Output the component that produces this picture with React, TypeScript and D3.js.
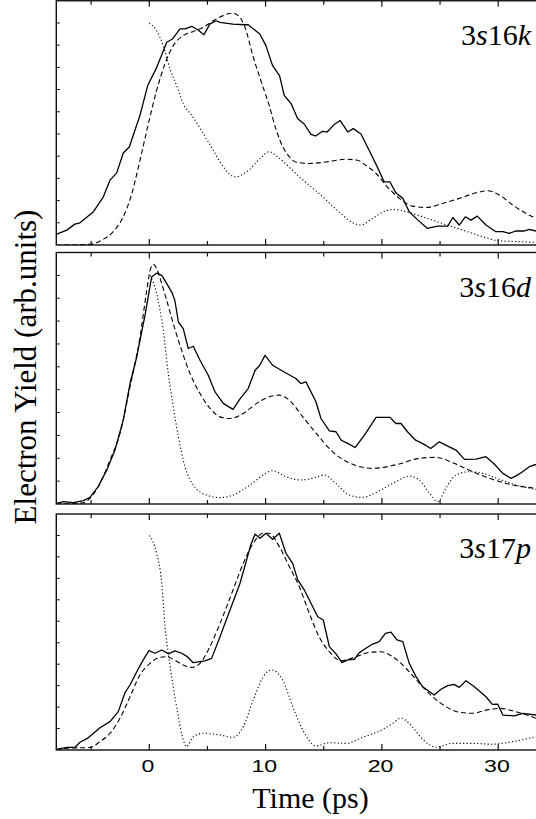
import React from "react";
import * as d3 from "d3";

type P = [number, number];

// x ticks (ps)
const xTicks: number[] = [-5, 0, 5, 10, 15, 20, 25, 30];
const xTickLabels: number[] = [0, 10, 20, 30];
const yMinorTicks: number[] = [1, 2, 3, 4, 5, 6, 7, 8, 9, 10];

// ---- 3s16k ----
const k16Solid: P[] = [[-8,0.48],[-7.1,0.67],[-6.4,0.94],[-5.96,1.0],[-4.8,1.5],[-3.95,2.17],[-3.38,2.92],[-2.8,3.25],[-2.24,4.14],[-1.72,4.41],[-0.8,5.84],[-0.14,7.18],[0.64,8.0],[1.5,9.13],[2.0,9.28],[2.64,9.73],[3.07,9.73],[3.65,9.85],[4.2,9.68],[4.7,9.47],[5.2,9.95],[5.73,10.1],[6.08,10.03],[7.2,9.95],[8.23,9.92],[8.5,9.92],[9.5,9.5],[10.03,8.98],[10.6,8.08],[11.2,7.63],[11.6,6.74],[12.2,6.36],[12.76,5.69],[13.3,5.46],[13.9,4.98],[14.3,4.91],[14.9,5.12],[15.3,5.09],[15.9,5.43],[16.4,5.61],[17.06,5.09],[17.54,5.24],[18.2,5.0],[18.9,4.27],[19.6,3.52],[20.2,2.84],[20.7,2.84],[21.2,2.35],[21.8,2.1],[22.35,1.5],[23.1,1.12],[23.9,0.75],[24.8,0.85],[25.66,0.85],[26.1,1.24],[26.65,0.9],[27.17,1.27],[27.66,1.12],[28.2,1.3],[28.95,0.9],[29.8,0.6],[30.4,0.6],[30.95,0.52],[31.5,0.63],[32.2,0.63],[32.67,0.7],[33.25,0.63]];
const k16Dashed: P[] = [[-8,0],[-5.1,0.03],[-3.95,0.26],[-3.1,0.6],[-2.24,1.27],[-1.5,2.32],[-0.8,3.82],[-0.08,5.46],[0.63,6.96],[1.35,8.16],[2.06,8.98],[2.92,9.43],[3.78,9.62],[4.64,9.8],[5.5,10.1],[6.36,10.33],[7.08,10.44],[7.65,10.33],[8.23,9.8],[8.94,8.46],[9.66,7.3],[10.3,6.3],[10.9,5.2],[11.5,4.4],[12.0,4.0],[12.6,3.74],[13.76,3.67],[15.2,3.74],[16.9,3.86],[17.9,3.82],[18.6,3.59],[19.5,3.22],[20.35,2.69],[21.5,2.1],[22.65,1.75],[23.8,1.69],[25.2,1.87],[26.65,2.1],[28.1,2.35],[29.1,2.44],[30.1,2.25],[31.25,1.8],[32.4,1.42],[33.25,1.2]];
const k16Dotted: P[] = [[0,10.0],[0.63,9.65],[1.2,8.98],[1.78,7.93],[2.35,7.18],[2.92,6.36],[3.65,5.84],[4.64,5.02],[5.5,4.27],[6.36,3.52],[7.37,3.07],[8.37,3.29],[9.52,3.89],[10.3,4.2],[11.2,3.89],[12.9,3.07],[14.6,2.32],[16.3,1.5],[17.5,1.0],[18.2,0.9],[19.2,1.2],[20.35,1.54],[21.07,1.6],[22.1,1.5],[23.5,1.27],[25.2,0.97],[26.95,0.67],[28.7,0.37],[30.1,0.19],[31.8,0.15],[33.25,0.12]];

// ---- 3s16d ----
const d16Solid: P[] = [[-8,0.03],[-7.4,0.1],[-6.5,0.06],[-5.67,0.15],[-5.1,0.29],[-4.4,0.76],[-3.66,1.48],[-2.95,2.36],[-2.24,3.67],[-1.66,5.27],[-1.08,6.43],[-0.8,7.16],[-0.37,8.25],[0,9.34],[0.2,9.93],[0.63,10.1],[1.07,10.0],[1.5,9.64],[1.93,9.27],[2.2,8.9],[2.5,7.96],[2.92,7.67],[3.35,6.8],[3.78,6.9],[4.36,6.29],[5.07,5.63],[5.65,4.9],[6.36,4.4],[7.2,4.14],[7.8,4.6],[8.5,5.05],[9.1,5.85],[9.5,6.07],[9.95,6.5],[10.6,6.07],[11.75,5.73],[12.6,5.49],[13.04,5.27],[13.47,5.34],[14.33,4.47],[14.76,3.74],[15.48,3.2],[16.05,3.16],[16.5,2.79],[17.06,2.65],[17.7,2.47],[18.63,3.11],[19.5,3.79],[20.7,3.79],[21.2,3.52],[21.64,3.52],[22.2,3.16],[22.9,2.79],[23.6,2.62],[24.2,2.43],[24.94,2.72],[25.66,2.53],[26.37,2.36],[27.1,1.95],[28.1,1.96],[28.95,2.07],[29.66,1.75],[30.4,1.34],[31.1,1.12],[31.5,1.22],[32.1,1.41],[32.67,1.63],[33.25,1.73]];
const d16Dashed: P[] = [[-8,0],[-5.67,0.05],[-5.1,0.25],[-4.24,0.9],[-3.38,1.92],[-2.52,3.09],[-1.66,5.12],[-0.8,7.3],[-0.22,9.34],[0.06,10.2],[0.35,10.48],[0.63,10.3],[1.07,9.64],[1.5,8.9],[2.06,7.89],[2.78,6.72],[3.5,5.71],[4.36,4.83],[5.22,4.18],[6.08,3.81],[6.94,3.74],[8.08,3.96],[9.23,4.4],[10.38,4.7],[11.18,4.76],[12.04,4.54],[13.2,3.81],[14.6,2.94],[15.77,2.28],[17.2,1.8],[19.2,1.56],[21.5,1.75],[23.2,2.0],[24.65,2.04],[26.1,1.8],[27.8,1.41],[29.5,1.08],[31.27,0.83],[33.25,0.69]];
const d16Dotted: P[] = [[0.1,10.0],[0.63,9.2],[1.2,7.6],[1.63,5.71],[2.06,4.25],[2.5,2.94],[3.07,1.63],[3.78,0.83],[4.93,0.39],[6.08,0.28],[7.2,0.39],[8.66,0.83],[9.8,1.27],[10.6,1.46],[11.75,1.19],[13.04,1.05],[14.33,1.17],[15.05,1.27],[16.05,0.9],[17.2,0.39],[18.35,0.29],[19.8,0.58],[21.2,0.97],[22.35,1.22],[23.2,1.05],[24.1,0.47],[24.8,0.1],[25.5,0.69],[26.37,1.27],[27.5,1.41],[28.66,1.34],[30.1,1.08],[31.8,0.79],[33.25,0.64]];

// ---- 3s17p ----
const p17Solid: P[] = [[-8,0.03],[-7.1,0.12],[-6.4,0.12],[-5.96,0.36],[-5.33,0.54],[-4.24,1.04],[-3.38,1.32],[-2.67,1.79],[-2.09,2.67],[-1.66,3.03],[-1.08,3.65],[-0.52,4.2],[-0.03,4.63],[0.49,4.51],[1.07,4.66],[1.66,4.48],[2.2,4.62],[2.78,4.51],[3.27,4.35],[3.78,4.07],[4.36,4.12],[4.79,4.15],[5.36,4.27],[6.08,5.28],[6.94,6.53],[7.8,7.77],[8.37,8.86],[8.72,9.56],[9.09,10.06],[9.52,9.87],[10.03,10.1],[10.6,9.82],[11.18,10.1],[11.75,9.17],[12.33,8.7],[12.76,7.93],[13.33,7.46],[13.9,6.84],[14.48,6.21],[14.96,6.06],[15.48,4.82],[16.05,4.48],[16.57,4.07],[17.06,4.2],[17.63,4.23],[18.06,4.54],[18.63,4.74],[19.2,4.94],[19.77,5.05],[20.3,5.44],[20.78,5.49],[21.3,5.13],[21.8,5.05],[22.35,4.04],[22.93,3.42],[23.5,2.95],[24.5,2.56],[25.08,2.83],[25.66,3.0],[26.2,3.06],[26.65,2.92],[27.23,3.23],[27.95,2.95],[28.95,2.48],[29.5,2.13],[29.95,2.14],[30.4,1.63],[31.4,1.59],[32.1,1.71],[33.25,1.63]];
const p17Dashed: P[] = [[-8,0],[-7.1,0.08],[-5.1,0.12],[-4.24,0.39],[-3.38,0.78],[-2.52,1.48],[-1.66,2.48],[-0.8,3.5],[0.06,4.04],[0.92,4.32],[1.5,4.35],[2.06,4.23],[2.92,3.96],[3.65,3.85],[4.36,4.04],[5.07,4.66],[6.08,5.9],[7.2,7.46],[8.08,8.7],[8.94,9.64],[9.8,10.1],[10.3,10.1],[11.18,9.48],[12.04,8.55],[12.9,7.61],[13.76,6.37],[14.6,5.28],[15.48,4.58],[16.48,4.16],[17.77,4.35],[18.92,4.55],[19.92,4.58],[20.93,4.35],[22.07,3.81],[23.22,3.11],[24.37,2.48],[25.5,2.02],[26.65,1.76],[27.8,1.71],[28.95,1.86],[30.1,1.94],[31.5,1.79],[33.25,1.48]];
const p17Dotted: P[] = [[0,10.0],[0.63,9.17],[1.07,7.77],[1.35,5.75],[1.63,4.51],[2.06,2.95],[2.5,1.55],[2.92,0.47],[3.2,0.15],[3.78,0.62],[4.64,0.78],[6.08,0.7],[7.2,0.59],[8.08,1.09],[8.94,2.33],[9.8,3.42],[10.5,3.73],[11.47,3.26],[12.33,2.02],[13.2,0.93],[14.33,0.19],[15.48,0.34],[16.9,0.31],[18.35,0.59],[20.07,0.96],[20.93,1.24],[21.64,1.48],[22.35,1.24],[23.5,0.5],[24.65,0.13],[26.1,0.31],[27.8,0.31],[29.5,0.27],[31.25,0.39],[33.25,0.62]];

// panel state labels: [number, italic letter, number, italic letter]
const stateLabels: string[][] = [["3", "s", "16", "k"], ["3", "s", "16", "d"], ["3", "s", "17", "p"]];
const solidSeries: P[][] = [k16Solid, d16Solid, p17Solid];
const dashedSeries: P[][] = [k16Dashed, d16Dashed, p17Dashed];
const dottedSeries: P[][] = [k16Dotted, d16Dotted, p17Dotted];

// layout (pixels)
const W = 536;
const H = 819;
const X0 = 56.3;
const panelTops = [0.75, 252.5, 514];
const panelBottoms = [245, 504, 750];
const SERIF = "'Liberation Serif', 'Times New Roman', Times, serif";
const SANS = "'Liberation Sans', Arial, Helvetica, sans-serif";

const x = d3.scaleLinear().domain([0, 30]).range([149.3, 498.2]);

export default function App() {
  return (
    <svg
      width={W}
      height={H}
      viewBox={`0 0 ${W} ${H}`}
      style={{ position: "absolute", left: 0, top: 0, display: "block", background: "#fff" }}
    >
      <rect x={0} y={0} width={W} height={H} fill="#fff" />
      {stateLabels.map((lab, i) => {
        const top = panelTops[i];
        const bottom = panelBottoms[i];
        const y = d3.scaleLinear().domain([0, 11]).range([bottom, top]);
        const smooth = d3
          .line<P>()
          .x((d) => x(d[0]))
          .y((d) => y(d[1]))
          .curve(d3.curveMonotoneX);
        const jagged = d3
          .line<P>()
          .x((d) => x(d[0]))
          .y((d) => y(d[1]))
          .curve(d3.curveLinear);
        const clipId = `clip-${i}`;
        return (
          <g key={i}>
            <defs>
              <clipPath id={clipId}>
                <rect x={X0} y={top} width={W + 10 - X0} height={bottom - top} />
              </clipPath>
            </defs>
            <g clipPath={`url(#${clipId})`} fill="none" stroke="#000">
              <path d={smooth(dottedSeries[i]) || ""} strokeWidth={1.1} strokeDasharray="1.2,2.3" />
              <path d={smooth(dashedSeries[i]) || ""} strokeWidth={1.1} strokeDasharray="5,3" />
              <path d={jagged(solidSeries[i]) || ""} strokeWidth={1.3} strokeLinejoin="round" />
            </g>
            {/* frame */}
            <rect
              x={X0}
              y={top}
              width={W + 20 - X0}
              height={bottom - top}
              fill="none"
              stroke="#111"
              strokeWidth={1.4}
            />
            {/* left minor ticks */}
            {yMinorTicks.map((v) => (
              <line key={`y${v}`} x1={X0} x2={X0 + 3.5} y1={y(v)} y2={y(v)} stroke="#111" strokeWidth={1} />
            ))}
            {/* top & bottom ticks */}
            {xTicks.map((t) => {
              const len = t % 10 === 0 ? 6 : 4;
              return (
                <g key={`x${t}`} stroke="#111" strokeWidth={1.2}>
                  <line x1={x(t)} x2={x(t)} y1={top} y2={top + len} />
                  <line x1={x(t)} x2={x(t)} y1={bottom} y2={bottom - len} />
                </g>
              );
            })}
            <text
              x={531}
              y={top + 44}
              textAnchor="end"
              fontFamily={SERIF}
              fontSize={30}
              fill="#000"
            >
              <tspan>{lab[0]}</tspan>
              <tspan fontStyle="italic">{lab[1]}</tspan>
              <tspan>{lab[2]}</tspan>
              <tspan fontStyle="italic">{lab[3]}</tspan>
            </text>
          </g>
        );
      })}
      {/* x tick labels */}
      {xTickLabels.map((t) => (
        <text
          key={`xl${t}`}
          transform={`translate(${x(t) - 1.3},771.7) scale(1.4,1)`}
          textAnchor="middle"
          fontFamily={SANS}
          fontSize={16.5}
          fill="#000"
        >
          {t}
        </text>
      ))}
      <text x={310.5} y={808} textAnchor="middle" fontFamily={SERIF} fontSize={30} fill="#000">
        Time (ps)
      </text>
      <text
        transform="translate(35.5,367) rotate(-90)"
        textAnchor="middle"
        fontFamily={SERIF}
        fontSize={31}
        fill="#000"
      >
        Electron Yield (arb.units)
      </text>
    </svg>
  );
}
